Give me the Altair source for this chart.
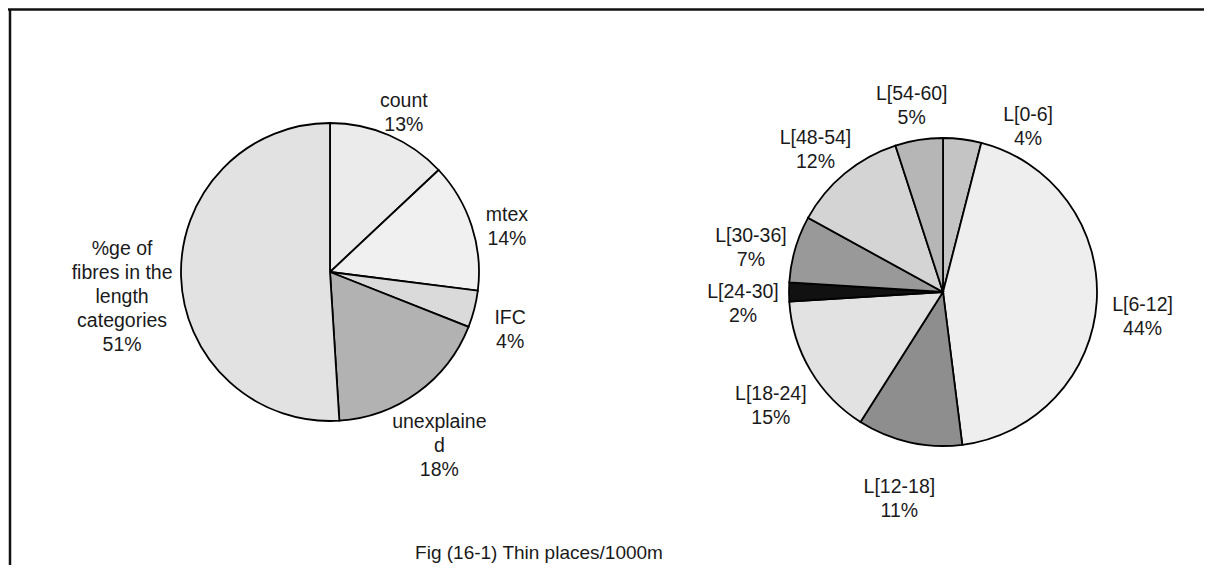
import altair as alt
import pandas as pd

# ---- data ----
left_labels = ["count", "mtex", "IFC", "unexplaine\nd",
               "%ge of\nfibres in the\nlength\ncategories"]
left_values = [13, 14, 4, 18, 51]

right_labels = ["L[0-6]", "L[6-12]", "L[12-18]", "L[18-24]",
                "L[24-30]", "L[30-36]", "L[48-54]", "L[54-60]"]
right_values = [4, 44, 11, 15, 2, 7, 12, 5]

caption = "Fig (16-1) Thin places/1000m"

# ---- styles (grey tones standing in for the hatch patterns) ----
left_fills = ["#ebebeb", "#f0f0f0", "#dadada", "#b2b2b2", "#e2e2e2"]
right_fills = ["#c4c4c4", "#eeeeee", "#8e8e8e", "#e2e2e2",
               "#111111", "#999999", "#d4d4d4", "#b6b6b6"]

FONT = "Liberation Sans"
FS = 19.5
LH = 24


def make_df(labels, values):
    return pd.DataFrame({
        "idx": list(range(len(labels))),
        "cat": labels,
        "value": values,
        "text": [f"{l}\n{v}%" for l, v in zip(labels, values)],
    })


left_df = make_df(left_labels, left_values)
right_df = make_df(right_labels, right_values)


def pie(df, cx, cy, r, fills, label_r, special):
    """special: {idx: (radius, dx, dy)} label nudges for crowded labels."""
    base = alt.Chart(df).encode(
        theta=alt.Theta("value:Q", stack=True, scale=alt.Scale(domain=[0, 100])),
        order=alt.Order("idx:Q"),
        x=alt.value(cx),
        y=alt.value(cy),
    )
    arcs = base.mark_arc(radius=r, stroke="black", strokeWidth=1.8).encode(
        color=alt.Color("cat:N", scale=alt.Scale(domain=list(df["cat"]), range=fills),
                        legend=None)
    )
    layers = [arcs]
    txt_kw = dict(font=FONT, fontSize=FS, lineHeight=LH, lineBreak="\n",
                  align="center", baseline="middle", color="#1a1a1a")
    keys = list(special.keys())
    normal_test = " && ".join(f"datum.idx != {k}" for k in keys) if keys else "true"
    layers.append(base.mark_text(radius=label_r, **txt_kw).encode(
        text=alt.condition(normal_test, "text:N", alt.value(""))))
    for k, (rr, dx, dy) in special.items():
        layers.append(base.mark_text(radius=rr, dx=dx, dy=dy, **txt_kw).encode(
            text=alt.condition(f"datum.idx == {k}", "text:N", alt.value(""))))
    return alt.layer(*layers)


left_pie = pie(left_df, 322, 264, 149, left_fills, 186, {4: (208, 0, -30)})
right_pie = pie(right_df, 935, 284, 154, right_fills, 200, {0: (200, 60, 21)})

frame_df = pd.DataFrame({"k": [0]})
top_rule = alt.Chart(frame_df).mark_rule(color="#111", strokeWidth=2.5).encode(
    x=alt.value(0), x2=alt.value(1196), y=alt.value(1.5))
left_rule = alt.Chart(frame_df).mark_rule(color="#111", strokeWidth=2.5).encode(
    x=alt.value(2), y=alt.value(1), y2=alt.value(557))

title_mark = alt.Chart(pd.DataFrame({"t": [caption]})).mark_text(
    font=FONT, fontSize=19, color="#1a1a1a", align="center", baseline="middle"
).encode(text="t:N", x=alt.value(531), y=alt.value(545))

chart = alt.layer(top_rule, left_rule, left_pie, right_pie, title_mark).resolve_scale(
    theta="independent", color="independent"
).properties(
    width=1196, height=557, autosize="none", padding=0, background="white"
).configure_view(strokeWidth=0)

chart.save("out.html", embed_options={"renderer": "svg", "actions": False})
